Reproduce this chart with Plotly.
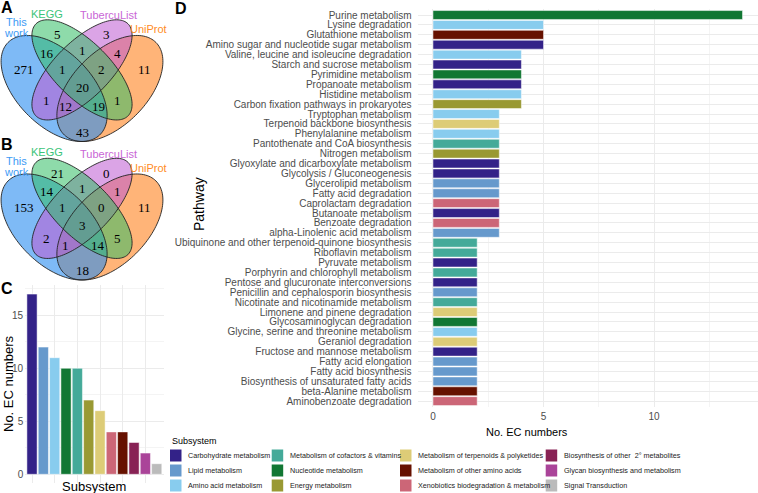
import numpy as np
import plotly.graph_objects as go

W, H = 758, 493
def px(x): return x / W
def py(y): return 1 - y / H

FONT = "Liberation Sans, Arial, sans-serif"
SERIF = "Liberation Serif, Times New Roman, serif"

# ---------------- data ----------------
venn_sets = ["This work", "KEGG", "TubercuList", "UniProt"]
venn_regions = ["K", "KT", "T", "WK", "WKT", "WKTU", "KTU", "TU", "W", "WT", "WTU", "WU", "WKU", "KU", "U"]
venn_a_counts = [5, 1, 3, 16, 1, 20, 2, 4, 271, 1, 12, 43, 19, 1, 11]
venn_b_counts = [21, 1, 0, 14, 1, 3, 0, 1, 153, 2, 1, 18, 14, 5, 11]

subsystems = ["Carbohydrate metabolism", "Lipid metabolism", "Amino acid metabolism",
              "Nucleotide metabolism", "Metabolism of cofactors & vitamins", "Energy metabolism",
              "Metabolism of terpenoids & polyketides", "Xenobiotics biodegradation & metabolism",
              "Metabolism of other amino acids", "Biosynthesis of other  2° metabolites",
              "Glycan biosynthesis and metabolism", "Signal Transduction"]
subsystem_counts = [17, 12, 11, 10, 10, 7, 6, 4, 4, 3, 2, 1]
subsystem_colors = ["#332288", "#6699CC", "#88CCEE", "#117733", "#44AA99", "#999933",
                    "#DDCC77", "#CC6677", "#661100", "#882255", "#AA4499", "#BBBBBB"]

legend_order = ["Carbohydrate metabolism", "Lipid metabolism", "Amino acid metabolism",
                "Metabolism of cofactors & vitamins", "Nucleotide metabolism", "Energy metabolism",
                "Metabolism of terpenoids & polyketides", "Metabolism of other amino acids",
                "Xenobiotics biodegradation & metabolism", "Biosynthesis of other  2° metabolites",
                "Glycan biosynthesis and metabolism", "Signal Transduction"]

pathways = ["Purine metabolism", "Lysine degradation", "Glutathione metabolism",
            "Amino sugar and nucleotide sugar metabolism", "Valine, leucine and isoleucine degradation",
            "Starch and sucrose metabolism", "Pyrimidine metabolism", "Propanoate metabolism",
            "Histidine metabolism", "Carbon fixation pathways in prokaryotes", "Tryptophan metabolism",
            "Terpenoid backbone biosynthesis", "Phenylalanine metabolism", "Pantothenate and CoA biosynthesis",
            "Nitrogen metabolism", "Glyoxylate and dicarboxylate metabolism", "Glycolysis / Gluconeogenesis",
            "Glycerolipid metabolism", "Fatty acid degradation", "Caprolactam degradation",
            "Butanoate metabolism", "Benzoate degradation", "alpha-Linolenic acid metabolism",
            "Ubiquinone and other terpenoid-quinone biosynthesis", "Riboflavin metabolism",
            "Pyruvate metabolism", "Porphyrin and chlorophyll metabolism",
            "Pentose and glucuronate interconversions", "Penicillin and cephalosporin biosynthesis",
            "Nicotinate and nicotinamide metabolism", "Limonene and pinene degradation",
            "Glycosaminoglycan degradation", "Glycine, serine and threonine metabolism",
            "Geraniol degradation", "Fructose and mannose metabolism", "Fatty acid elongation",
            "Fatty acid biosynthesis", "Biosynthesis of unsaturated fatty acids",
            "beta-Alanine metabolism", "Aminobenzoate degradation"]
pathway_counts = [14, 5, 5, 5, 4, 4, 4, 4, 4, 4, 3, 3, 3, 3, 3, 3, 3, 3, 3, 3, 3, 3, 3,
                  2, 2, 2, 2, 2, 2, 2, 2, 2, 2, 2, 2, 2, 2, 2, 2, 2]
pathway_subsystem = ["Nucleotide metabolism", "Amino acid metabolism", "Metabolism of other amino acids",
                     "Carbohydrate metabolism", "Amino acid metabolism", "Carbohydrate metabolism",
                     "Nucleotide metabolism", "Carbohydrate metabolism", "Amino acid metabolism",
                     "Energy metabolism", "Amino acid metabolism", "Metabolism of terpenoids & polyketides",
                     "Amino acid metabolism", "Metabolism of cofactors & vitamins", "Energy metabolism",
                     "Carbohydrate metabolism", "Carbohydrate metabolism", "Lipid metabolism",
                     "Lipid metabolism", "Xenobiotics biodegradation & metabolism", "Carbohydrate metabolism",
                     "Xenobiotics biodegradation & metabolism", "Lipid metabolism",
                     "Metabolism of cofactors & vitamins", "Metabolism of cofactors & vitamins",
                     "Carbohydrate metabolism", "Metabolism of cofactors & vitamins", "Carbohydrate metabolism",
                     "Lipid metabolism", "Metabolism of cofactors & vitamins",
                     "Metabolism of terpenoids & polyketides", "Nucleotide metabolism",
                     "Amino acid metabolism", "Metabolism of terpenoids & polyketides",
                     "Carbohydrate metabolism", "Lipid metabolism", "Lipid metabolism", "Lipid metabolism",
                     "Metabolism of other amino acids", "Xenobiotics biodegradation & metabolism"]

color_of = dict(zip(subsystems, subsystem_colors))

# ---------------- figure ----------------
fig = go.Figure()

# Panel C
fig.add_trace(go.Bar(x=subsystems, y=subsystem_counts,
                     marker=dict(color=subsystem_colors, line=dict(color="white", width=0.5)),
                     xaxis="x", yaxis="y", showlegend=False, hoverinfo="x+y"))
# Panel D
fig.add_trace(go.Bar(x=pathway_counts, y=pathways, orientation="h",
                     marker=dict(color=[color_of[s] for s in pathway_subsystem],
                                 line=dict(color="white", width=0.5)),
                     xaxis="x2", yaxis="y2", showlegend=False, hoverinfo="x+y"))

GRID = "#EBEBEB"
MINOR = "#F4F4F4"
TICKC = "#4D4D4D"

layout = dict(
    width=W, height=H, autosize=False,
    margin=dict(l=0, r=0, t=0, b=0),
    paper_bgcolor="white", plot_bgcolor="white",
    bargap=0.1,
    font=dict(family=FONT),
    xaxis=dict(domain=[px(25.2), px(163.5)], type="category", categoryorder="array",
               categoryarray=subsystems, range=[-0.6, 11.6], showticklabels=False,
               showgrid=True, gridcolor=GRID, gridwidth=1, zeroline=False, showline=False,
               ticks="", anchor="y"),
    yaxis=dict(domain=[py(483.3), py(285.1)], range=[-0.85, 17.85], tickvals=[0, 5, 10, 15],
               ticktext=["0", "5", "10", "15"],
               minor=dict(tickvals=[2.5, 7.5, 12.5, 17.5], showgrid=True, gridcolor=MINOR, gridwidth=0.6),
               showgrid=True, gridcolor=GRID, gridwidth=1, zeroline=False, showline=False,
               ticks="", tickfont=dict(size=10, color=TICKC), ticklabelstandoff=1, anchor="x"),
    xaxis2=dict(domain=[px(417.5), 1.0], range=[-0.7, 14.7], tickvals=[0, 5, 10],
                ticktext=["0", "5", "10"],
                minor=dict(tickvals=[2.5, 7.5, 12.5], showgrid=True, gridcolor=MINOR, gridwidth=0.6),
                showgrid=True, gridcolor=GRID, gridwidth=1, zeroline=False, showline=False,
                ticks="", tickfont=dict(size=10, color=TICKC), ticklabelstandoff=2, anchor="y2"),
    yaxis2=dict(domain=[py(407.1), py(9.06)], type="category", categoryorder="array",
                categoryarray=pathways, range=[len(pathways) - 0.4, -0.6],
                tickmode="array", tickvals=pathways, ticktext=pathways,
                showgrid=True, gridcolor=GRID, gridwidth=1, zeroline=False, showline=False,
                ticks="", tickfont=dict(size=10, color=TICKC), ticklabelstandoff=5, anchor="x2"),
)
fig.update_layout(**layout)

annotations = []
shapes = []

def text(x, y, s, size, color="black", family=FONT, xanchor="center", angle=0, bold=False):
    if bold:
        s = "<b>" + s + "</b>"
    annotations.append(dict(x=px(x), y=py(y), xref="paper", yref="paper", text=s, showarrow=False,
                            xanchor=xanchor, yanchor="middle", textangle=angle,
                            font=dict(size=size, color=color, family=family)))

# Panel letters
text(6.5, 7, "A", 16, bold=True)
text(6.5, 144, "B", 16, bold=True)
text(6.5, 288, "C", 16, bold=True)
text(181, 9, "D", 16, bold=True)

# Axis titles
text(8, 384, "No. EC numbers", 13, angle=-90)
text(94, 486, "Subsystem", 13)
text(199, 204, "Pathway", 14, angle=-90)
text(527, 432, "No. EC numbers", 11)

# ---------------- Venn diagrams ----------------
ell_params = {  # cx, cy, a, b, rotation (unit square, y up)
    "UniProt": (0.65, 0.47, 0.35, 0.20, 45),
    "This work": (0.35, 0.47, 0.35, 0.20, 135),
    "TubercuList": (0.50, 0.57, 0.35, 0.15, 45),
    "KEGG": (0.50, 0.57, 0.35, 0.15, 135),
}
ell_fill = {
    "UniProt": "rgba(255,130,30,0.6)",
    "This work": "rgba(40,140,240,0.6)",
    "TubercuList": "rgba(190,90,210,0.55)",
    "KEGG": "rgba(50,190,100,0.55)",
}
set_label_color = {"This work": "#3D9BF5", "KEGG": "#3CC47A", "TubercuList": "#C966D6", "UniProt": "#FF8C26"}
draw_order = ["UniProt", "This work", "TubercuList", "KEGG"]

region_pos = {  # pixel positions of region labels for panel A
    "K": (57, 35), "KT": (82, 50), "T": (106, 35), "WK": (47, 53), "WKT": (62, 69),
    "WKTU": (82, 87), "KTU": (101, 69), "TU": (117, 53), "W": (24, 69), "WT": (46, 100),
    "WTU": (65, 107), "WU": (82, 132), "WKU": (98, 107), "KU": (117, 100), "U": (144, 69),
}
SCALE = 186.0

def ellipse_path(cx, cy, a, b, rot, yoff):
    t = np.linspace(0, 2 * np.pi, 140)
    th = np.radians(rot)
    u = cx + a * np.cos(t) * np.cos(th) - b * np.sin(t) * np.sin(th)
    v = cy + a * np.cos(t) * np.sin(th) + b * np.sin(t) * np.cos(th)
    X = 82 + (u - 0.5) * SCALE
    Y = yoff + 175.9 - v * SCALE
    pts = [f"{px(x):.5f},{py(y):.5f}" for x, y in zip(X, Y)]
    return "M " + " L ".join(pts) + " Z"

def venn(yoff, counts):
    for name in draw_order:
        shapes.append(dict(type="path", xref="paper", yref="paper",
                           path=ellipse_path(*ell_params[name], yoff),
                           fillcolor=ell_fill[name], line=dict(width=0), layer="above"))
    for name in draw_order:
        shapes.append(dict(type="path", xref="paper", yref="paper",
                           path=ellipse_path(*ell_params[name], yoff),
                           fillcolor="rgba(0,0,0,0)", line=dict(color="#222222", width=0.9), layer="above"))
    for reg, c in zip(venn_regions, counts):
        x, y = region_pos[reg]
        text(x, y + yoff, str(c), 13, family=SERIF)
    text(16, 22 + yoff, "This", 11, color=set_label_color["This work"])
    text(16, 33 + yoff, "work", 11, color=set_label_color["This work"])
    text(47, 14 + yoff, "KEGG", 11, color=set_label_color["KEGG"])
    text(108, 15 + yoff, "TubercuList", 11, color=set_label_color["TubercuList"])
    text(148, 29 + yoff, "UniProt", 11, color=set_label_color["UniProt"])

venn(0, venn_a_counts)
venn(138.5, venn_b_counts)

# ---------------- Legend ----------------
text(170, 441, "Subsystem", 9, xanchor="left")
col_x = [170, 271.7, 400, 545.7]
row_y = [455.5, 470.5, 485.5]
for i, name in enumerate(legend_order):
    c, r = divmod(i, 3)
    x0, y0 = col_x[c], row_y[r]
    shapes.append(dict(type="rect", xref="paper", yref="paper",
                       x0=px(x0), x1=px(x0 + 11.5), y0=py(y0 - 6), y1=py(y0 + 6),
                       fillcolor=color_of[name], line=dict(width=0)))
    text(x0 + 16, y0, name, 7.2, color="#222222", xanchor="left")

fig.update_layout(annotations=annotations, shapes=shapes)
fig.write_html("out.html", config={"displayModeBar": False},
               post_script="document.body.style.margin='0';document.body.style.padding='0';")
